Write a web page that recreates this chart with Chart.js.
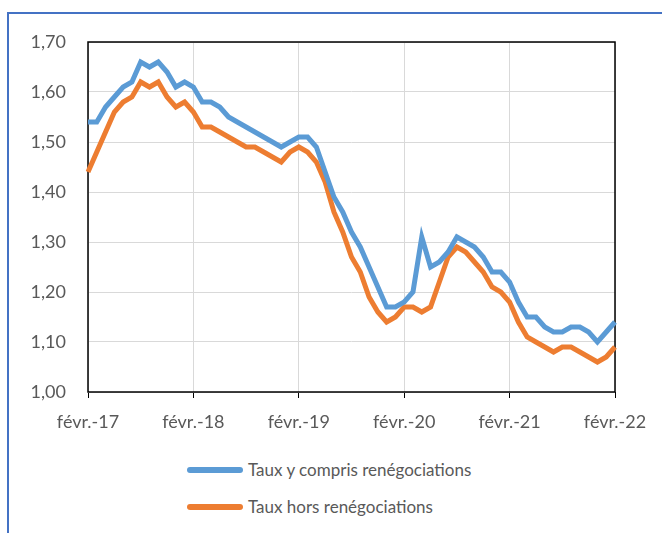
<!DOCTYPE html>
<html>
<head>
<meta charset="utf-8">
<script src="https://cdn.jsdelivr.net/npm/chart.js@4"></script>
<style>
  body { margin: 0; width: 662px; height: 533px; overflow: hidden; background: #fff; font-family: Lato, "Open Sans", sans-serif; }
  #frame { position: absolute; left: 7px; top: 12px; width: 720px; height: 600px; border: 2px solid #4472C4; }
  #wrap { position: absolute; left: 0; top: 0; width: 662px; height: 440px; }
  #legend { position: absolute; left: 187px; top: 451px; }
  .item { display: flex; align-items: center; height: 37px; color: #595959; font-size: 17px; }
  .swatch { display: inline-block; width: 56px; height: 6px; border-radius: 3px; margin-right: 5px; }
</style>
</head>
<body>
<div id="frame"></div>
<div id="wrap"><canvas id="canvas"></canvas></div>
<div id="legend"></div>
<script>
// monthly, févr. 2017 -> févr. 2022
const months = ["janv.", "févr.", "mars", "avr.", "mai", "juin", "juil.", "août", "sept.", "oct.", "nov.", "déc."];
let labels = [];
for (let i = 0; i <= 60; i++) {
  const m = (1 + i) % 12;
  const y = 17 + Math.floor((1 + i) / 12);
  labels.push(months[m] + "-" + y);
}

const tauxAvecReneg = [
  1.54, 1.54, 1.57, 1.59, 1.61, 1.62, 1.66, 1.65, 1.66, 1.64, 1.61, 1.62,
  1.61, 1.58, 1.58, 1.57, 1.55, 1.54, 1.53, 1.52, 1.51, 1.50, 1.49, 1.50,
  1.51, 1.51, 1.49, 1.44, 1.39, 1.36, 1.32, 1.29, 1.25, 1.21, 1.17, 1.17,
  1.18, 1.20, 1.31, 1.25, 1.26, 1.28, 1.31, 1.30, 1.29, 1.27, 1.24, 1.24,
  1.22, 1.18, 1.15, 1.15, 1.13, 1.12, 1.12, 1.13, 1.13, 1.12, 1.10, 1.12,
  1.14
];
const tauxHorsReneg = [
  1.44, 1.48, 1.52, 1.56, 1.58, 1.59, 1.62, 1.61, 1.62, 1.59, 1.57, 1.58,
  1.56, 1.53, 1.53, 1.52, 1.51, 1.50, 1.49, 1.49, 1.48, 1.47, 1.46, 1.48,
  1.49, 1.48, 1.46, 1.42, 1.36, 1.32, 1.27, 1.24, 1.19, 1.16, 1.14, 1.15,
  1.17, 1.17, 1.16, 1.17, 1.22, 1.27, 1.29, 1.28, 1.26, 1.24, 1.21, 1.20,
  1.18, 1.14, 1.11, 1.10, 1.09, 1.08, 1.09, 1.09, 1.08, 1.07, 1.06, 1.07,
  1.09
];

const seriesNames = ["Taux y compris renégociations", "Taux hors renégociations"];
const seriesColors = ["#5B9BD5", "#ED7D31"];

const textColor = "#595959";
const fontFamily = "Lato, 'Open Sans', sans-serif";

// black frame round the plot area
const plotBorder = {
  id: "plotBorder",
  beforeDatasetsDraw(chart) {
    const a = chart.chartArea;
    const ctx = chart.ctx;
    ctx.save();
    ctx.strokeStyle = "#000";
    ctx.lineWidth = 1.5;
    ctx.strokeRect(a.left, a.top, a.right - a.left, a.bottom - a.top);
    ctx.restore();
  }
};

const chartContainer = document.getElementById("canvas").getContext("2d");
const channelChart = new Chart(chartContainer, {
  type: "line",
  data: {
    labels: labels,
    datasets: [
      {
        label: seriesNames[0],
        data: tauxAvecReneg,
        borderColor: seriesColors[0],
        backgroundColor: seriesColors[0],
        borderWidth: 5,
        pointRadius: 0,
        tension: 0,
      },
      {
        label: seriesNames[1],
        data: tauxHorsReneg,
        borderColor: seriesColors[1],
        backgroundColor: seriesColors[1],
        borderWidth: 5,
        pointRadius: 0,
        tension: 0,
      },
    ],
  },
  options: {
    responsive: true,
    maintainAspectRatio: false,
    animation: false,
    layout: { padding: { left: 0, top: 42, right: 47, bottom: 0 } },
    plugins: {
      legend: { display: false },
      tooltip: { enabled: false },
    },
    scales: {
      x: {
        offset: false,
        afterFit: (scale) => { scale.height = 48; },
        border: { display: false },
        grid: { color: "#d9d9d9", tickColor: "#000", tickLength: 6, lineWidth: 1 },
        ticks: {
          autoSkip: false,
          maxRotation: 0,
          padding: 13,
          color: textColor,
          font: { family: fontFamily, size: 18 },
          callback: function (value, index) {
            return index % 12 === 0 ? this.getLabelForValue(value) : null;
          },
        },
      },
      y: {
        min: 1.0,
        max: 1.7,
        afterFit: (scale) => { scale.width = 88; },
        border: { display: false },
        grid: { color: "#d9d9d9", drawTicks: false, lineWidth: 1 },
        ticks: {
          stepSize: 0.1,
          padding: 22,
          color: textColor,
          font: { family: fontFamily, size: 18 },
          callback: (v) => v.toFixed(2).replace(".", ","),
        },
      },
    },
  },
  plugins: [plotBorder],
});

// legend in a column, as in the source
const legendBox = document.getElementById("legend");
channelChart.data.datasets.forEach((ds) => {
  const row = document.createElement("div");
  row.className = "item";
  const sw = document.createElement("span");
  sw.className = "swatch";
  sw.style.background = ds.borderColor;
  row.appendChild(sw);
  row.appendChild(document.createTextNode(ds.label));
  legendBox.appendChild(row);
});
</script>
</body>
</html>
